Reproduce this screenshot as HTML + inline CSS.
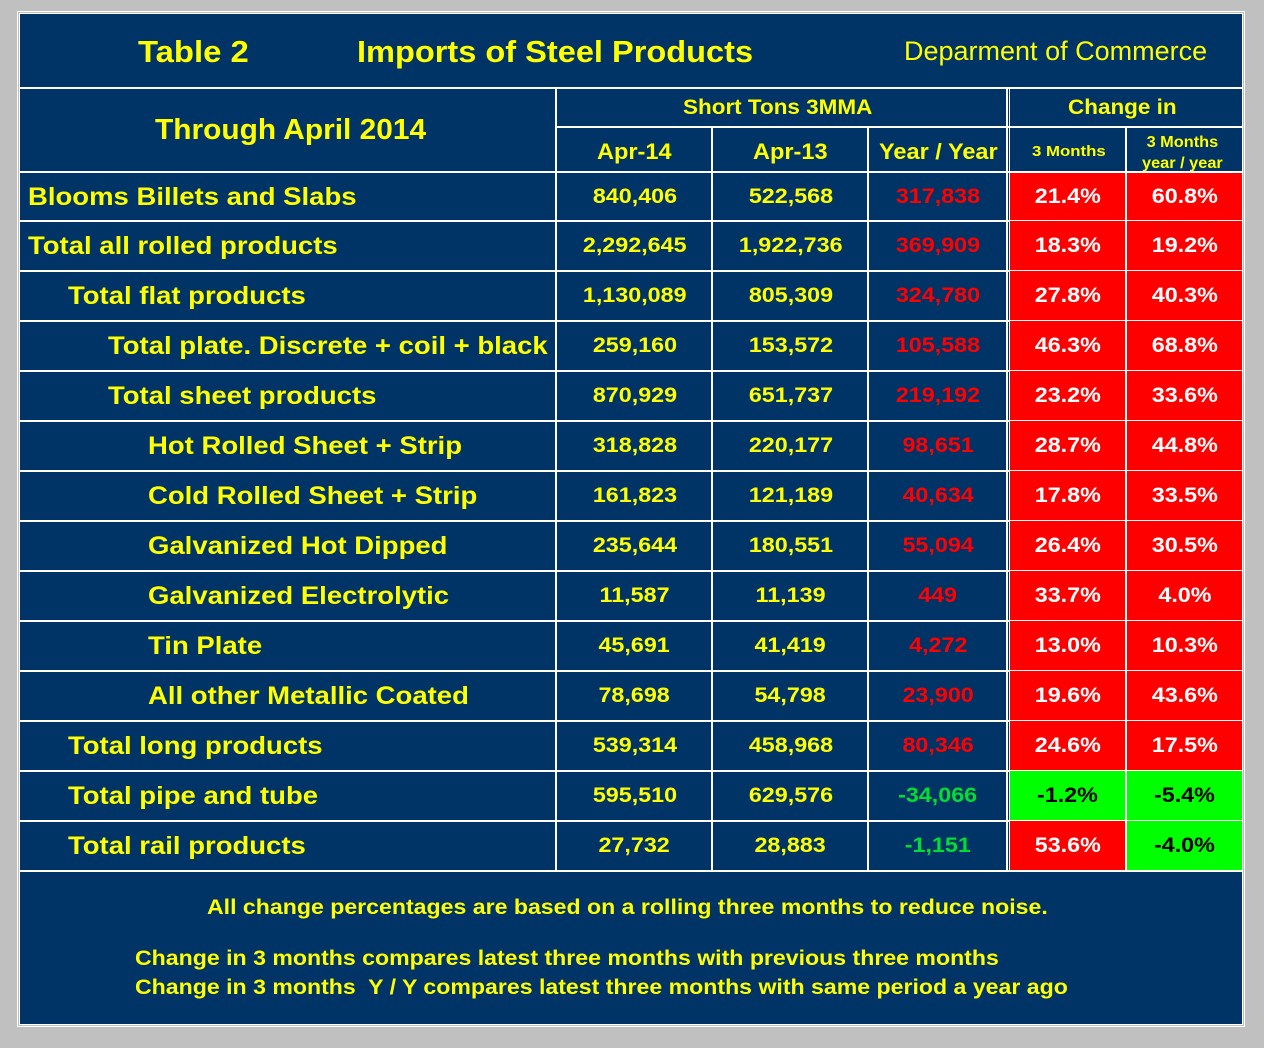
<!DOCTYPE html>
<html><head><meta charset="utf-8"><style>
body{margin:0;width:1264px;height:1048px;background:#c0c0c0;position:relative;overflow:hidden;font-family:"Liberation Sans",Arial,sans-serif;}
#box{position:absolute;left:20px;top:14px;width:1222px;height:1010px;background:#003366;outline:1px solid #fff;box-shadow:0 0 0 2px #c0c0c0,0 0 0 3px #fff;}
.l{position:absolute;background:#fff;}
.t{position:absolute;font-weight:bold;color:#ffff00;white-space:nowrap;line-height:1;transform-origin:0 50%;transform:scaleX(1.1);}
.c{position:absolute;display:flex;align-items:center;justify-content:center;font-weight:bold;font-size:21px;white-space:nowrap;}
.c span{display:inline-block;transform:scaleX(1.11);}
</style></head><body>
<div id="box"></div>
<div class="t" style="left:138px;top:36px;font-size:31px;transform:scaleX(1.06)">Table 2</div>
<div class="t" style="left:357px;top:36px;font-size:31px;transform:scaleX(1.05)">Imports of Steel Products</div>
<div class="t" style="left:904px;top:38px;font-size:27px;font-weight:normal;transform:none">Deparment of Commerce</div>
<div class="t" style="left:155px;top:116px;font-size:29px;transform:scaleX(1.03)">Through April 2014</div>
<div class="t" style="left:683px;top:97px;font-size:21px;transform:scaleX(1.07)">Short Tons 3MMA</div>
<div class="t" style="left:1068px;top:97px;font-size:21px;transform:scaleX(1.07)">Change in</div>
<div class="t" style="left:597px;top:141px;font-size:22px;transform:scaleX(1.07)">Apr-14</div>
<div class="t" style="left:753px;top:141px;font-size:22px;transform:scaleX(1.07)">Apr-13</div>
<div class="t" style="left:879px;top:141px;font-size:22px;transform:scaleX(1.07)">Year / Year</div>
<div class="t" style="left:1032px;top:144px;font-size:15px;transform:scaleX(1.12)">3 Months</div>
<div class="t" style="left:1142px;top:132px;font-size:16px;text-align:center;line-height:21px;transform:scaleX(1.02)">3 Months<br>year / year</div>
<div id="grid"></div>
<div class="t" style="left:207px;top:897px;font-size:21px">All change percentages are based on a rolling three months to reduce noise.</div>
<div class="t" style="left:135px;top:948px;font-size:21px">Change in 3 months compares latest three months with previous three months</div>
<div class="t" style="left:135px;top:977px;font-size:21px">Change in 3 months&nbsp; Y / Y compares latest three months with same period a year ago</div>
<script>
const labels=["Blooms Billets and Slabs","Total all rolled products","Total flat products","Total plate. Discrete + coil + black","Total sheet products","Hot Rolled Sheet + Strip","Cold Rolled Sheet + Strip","Galvanized Hot Dipped","Galvanized Electrolytic","Tin Plate","All other Metallic Coated","Total long products","Total pipe and tube","Total rail products"];
const levels=[0,0,1,2,2,3,3,3,3,3,3,1,1,1];
const apr14=["840,406","2,292,645","1,130,089","259,160","870,929","318,828","161,823","235,644","11,587","45,691","78,698","539,314","595,510","27,732"];
const apr13=["522,568","1,922,736","805,309","153,572","651,737","220,177","121,189","180,551","11,139","41,419","54,798","458,968","629,576","28,883"];
const yoy=["317,838","369,909","324,780","105,588","219,192","98,651","40,634","55,094","449","4,272","23,900","80,346","-34,066","-1,151"];
const chg3m=["21.4%","18.3%","27.8%","46.3%","23.2%","28.7%","17.8%","26.4%","33.7%","13.0%","19.6%","24.6%","-1.2%","53.6%"];
const chg3mYoy=["60.8%","19.2%","40.3%","68.8%","33.6%","44.8%","33.5%","30.5%","4.0%","10.3%","43.6%","17.5%","-5.4%","-4.0%"];
const g=document.getElementById('grid');
function line(x,y,w,h,n){const d=document.createElement('div');d.className='l';d.style.cssText=`left:${x}px;top:${y}px;width:${w}px;height:${h}px`;


g.appendChild(d);}
function cell(x,y,w,h,txt,bg,col,n){const d=document.createElement('div');d.className='c';d.style.cssText=`left:${x}px;top:${y}px;width:${w}px;height:${h}px;background:${bg};color:${col}`;
const s=document.createElement('span');s.textContent=txt;d.appendChild(s);


g.appendChild(d);}
const top0=173,rowH=50;
function rowTop(i){return i===0?top0:221+(i-1)*rowH;}
function rowBot(i){return 221+i*rowH-1;}
labels.forEach((lab,i)=>{
 const y=rowTop(i),h=rowBot(i)-y;
 const t=document.createElement('div');t.className='t';t.textContent=lab;
 t.style.cssText=`left:${28+levels[i]*40}px;top:${y+h/2-12}px;font-size:25px`;
 
 
 g.appendChild(t);
 cell(557,y,155,h,apr14[i],'transparent','#ffff00','apr14-value');
 cell(713,y,155,h,apr13[i],'transparent','#ffff00','apr13-value');
 const neg=yoy[i].startsWith('-');
 cell(869,y,138,h,yoy[i],'transparent',neg?'#00dd33':'#ff0000','yoy-value');
 const n1=chg3m[i].startsWith('-'),n2=chg3mYoy[i].startsWith('-');
 cell(1010,y,115,h,chg3m[i],n1?'#00ff00':'#ff0000',n1?'#000':'#fff','change-3m');
 cell(1127,y,115,h,chg3mYoy[i],n2?'#00ff00':'#ff0000',n2?'#000':'#fff','change-3m-yoy');
 line(20,rowBot(i),1222,2,'row-divider');
});
line(20,87,1222,2,'title-divider');
line(20,171,1222,2,'header-divider');
line(556,126,686,2,'subheader-divider');
line(555,87,2,784,'col-divider');
line(711,126,2,745,'col-divider');
line(867,126,2,745,'col-divider');
line(1006,87,2,784,'col-divider');
line(1009,87,1,784,'col-divider');
line(1125,126,2,745,'col-divider');
</script>
</body></html>
